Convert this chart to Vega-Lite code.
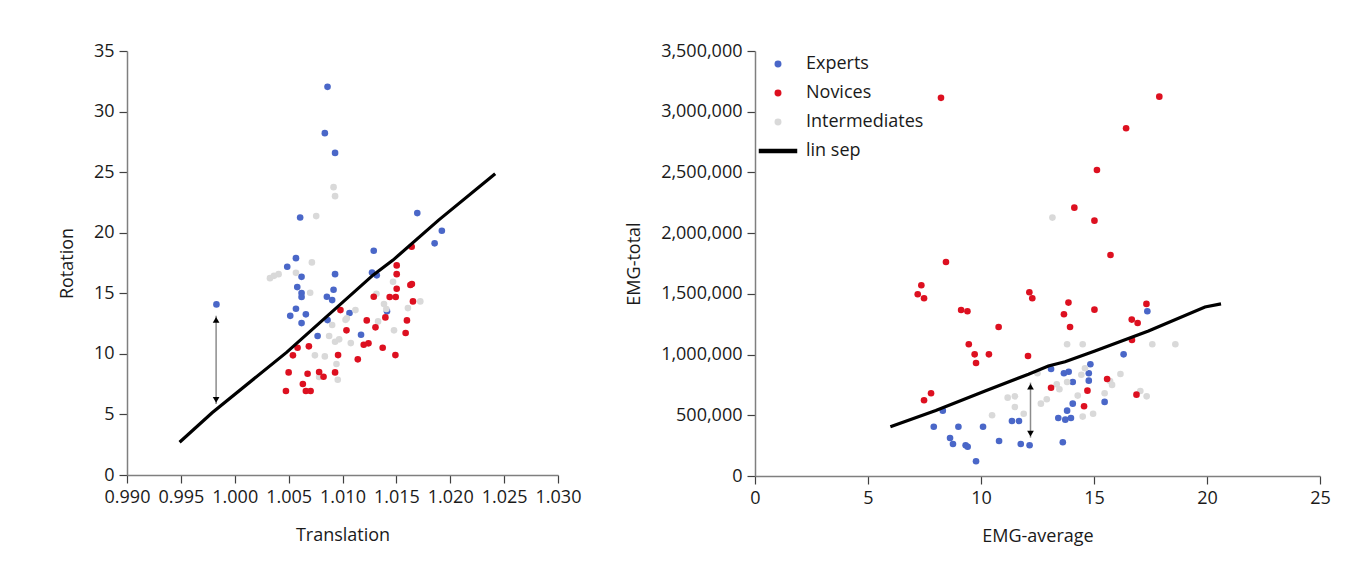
{
  "$schema": "https://vega.github.io/schema/vega-lite/v6.json",
  "background": "white",
  "padding": {"left": 58, "top": 42, "right": 0, "bottom": 20},
  "spacing": 44,
  "resolve": {"scale": {"color": "independent", "shape": "independent"}, "legend": {"color": "independent", "shape": "independent"}},
  "config": {
    "view": {"stroke": null},
    "font": "Open Sans",
    "axis": {
      "grid": false,
      "domainColor": "#7f7f7f",
      "domainWidth": 1.5,
      "tickColor": "#404040",
      "tickWidth": 1.2,
      "tickSize": 8,
      "labelFontSize": 18,
      "labelColor": "#1a1a1a",
      "labelPadding": 5,
      "titleFontSize": 18,
      "titleFontWeight": "normal",
      "titleColor": "#1a1a1a",
      "labelFlush": false,
      "labelOverlap": false
    }
  },
  "datasets": {
    "left_pts": [
      {"x": 1.00861, "y": 32.04, "g": "Experts"},
      {"x": 1.00836, "y": 28.22, "g": "Experts"},
      {"x": 1.00931, "y": 26.59, "g": "Experts"},
      {"x": 1.00607, "y": 21.26, "g": "Experts"},
      {"x": 1.01694, "y": 21.62, "g": "Experts"},
      {"x": 1.01922, "y": 20.16, "g": "Experts"},
      {"x": 1.01855, "y": 19.12, "g": "Experts"},
      {"x": 1.0129, "y": 18.51, "g": "Experts"},
      {"x": 1.00568, "y": 17.9, "g": "Experts"},
      {"x": 1.00487, "y": 17.19, "g": "Experts"},
      {"x": 1.0062, "y": 16.36, "g": "Experts"},
      {"x": 1.00931, "y": 16.58, "g": "Experts"},
      {"x": 1.01274, "y": 16.72, "g": "Experts"},
      {"x": 1.01318, "y": 16.48, "g": "Experts"},
      {"x": 1.0058, "y": 15.51, "g": "Experts"},
      {"x": 1.0062, "y": 15.02, "g": "Experts"},
      {"x": 1.0062, "y": 14.69, "g": "Experts"},
      {"x": 1.00917, "y": 15.29, "g": "Experts"},
      {"x": 1.00855, "y": 14.71, "g": "Experts"},
      {"x": 1.00904, "y": 14.44, "g": "Experts"},
      {"x": 0.9983, "y": 14.08, "g": "Experts"},
      {"x": 1.00568, "y": 13.72, "g": "Experts"},
      {"x": 1.00515, "y": 13.14, "g": "Experts"},
      {"x": 1.0066, "y": 13.26, "g": "Experts"},
      {"x": 1.0062, "y": 12.54, "g": "Experts"},
      {"x": 1.01065, "y": 13.37, "g": "Experts"},
      {"x": 1.00861, "y": 12.79, "g": "Experts"},
      {"x": 1.01413, "y": 13.51, "g": "Experts"},
      {"x": 1.00769, "y": 11.47, "g": "Experts"},
      {"x": 1.01172, "y": 11.58, "g": "Experts"},
      {"x": 1.00917, "y": 23.76, "g": "Intermediates"},
      {"x": 1.00931, "y": 23.02, "g": "Intermediates"},
      {"x": 1.00756, "y": 21.37, "g": "Intermediates"},
      {"x": 1.00716, "y": 17.55, "g": "Intermediates"},
      {"x": 1.00327, "y": 16.25, "g": "Intermediates"},
      {"x": 1.00364, "y": 16.44, "g": "Intermediates"},
      {"x": 1.00407, "y": 16.58, "g": "Intermediates"},
      {"x": 1.00568, "y": 16.69, "g": "Intermediates"},
      {"x": 1.01469, "y": 15.95, "g": "Intermediates"},
      {"x": 1.007, "y": 15.04, "g": "Intermediates"},
      {"x": 1.01315, "y": 14.96, "g": "Intermediates"},
      {"x": 1.01722, "y": 14.33, "g": "Intermediates"},
      {"x": 1.01385, "y": 14.11, "g": "Intermediates"},
      {"x": 1.01407, "y": 13.7, "g": "Intermediates"},
      {"x": 1.01607, "y": 13.78, "g": "Intermediates"},
      {"x": 1.0112, "y": 13.61, "g": "Intermediates"},
      {"x": 1.01028, "y": 12.81, "g": "Intermediates"},
      {"x": 1.0104, "y": 12.93, "g": "Intermediates"},
      {"x": 1.00904, "y": 12.38, "g": "Intermediates"},
      {"x": 1.0133, "y": 12.68, "g": "Intermediates"},
      {"x": 1.01478, "y": 11.94, "g": "Intermediates"},
      {"x": 1.00876, "y": 11.47, "g": "Intermediates"},
      {"x": 1.00931, "y": 11.0, "g": "Intermediates"},
      {"x": 1.00969, "y": 11.2, "g": "Intermediates"},
      {"x": 1.01077, "y": 10.89, "g": "Intermediates"},
      {"x": 1.00744, "y": 9.88, "g": "Intermediates"},
      {"x": 1.00836, "y": 9.79, "g": "Intermediates"},
      {"x": 1.00944, "y": 9.16, "g": "Intermediates"},
      {"x": 1.00783, "y": 8.09, "g": "Intermediates"},
      {"x": 1.00956, "y": 7.86, "g": "Intermediates"},
      {"x": 1.01642, "y": 18.84, "g": "Novices"},
      {"x": 1.01503, "y": 17.3, "g": "Novices"},
      {"x": 1.01503, "y": 16.58, "g": "Novices"},
      {"x": 1.0163, "y": 15.68, "g": "Novices"},
      {"x": 1.01644, "y": 15.76, "g": "Novices"},
      {"x": 1.01503, "y": 15.37, "g": "Novices"},
      {"x": 1.0129, "y": 14.71, "g": "Novices"},
      {"x": 1.01438, "y": 14.69, "g": "Novices"},
      {"x": 1.01494, "y": 14.69, "g": "Novices"},
      {"x": 1.01654, "y": 14.33, "g": "Novices"},
      {"x": 1.00981, "y": 13.61, "g": "Novices"},
      {"x": 1.01225, "y": 12.76, "g": "Novices"},
      {"x": 1.01398, "y": 13.01, "g": "Novices"},
      {"x": 1.01598, "y": 12.76, "g": "Novices"},
      {"x": 1.01306, "y": 12.19, "g": "Novices"},
      {"x": 1.01037, "y": 11.94, "g": "Novices"},
      {"x": 1.01586, "y": 11.72, "g": "Novices"},
      {"x": 1.01197, "y": 10.75, "g": "Novices"},
      {"x": 1.01241, "y": 10.87, "g": "Novices"},
      {"x": 1.01373, "y": 10.5, "g": "Novices"},
      {"x": 1.00583, "y": 10.5, "g": "Novices"},
      {"x": 1.00688, "y": 10.62, "g": "Novices"},
      {"x": 1.0054, "y": 9.88, "g": "Novices"},
      {"x": 1.00959, "y": 9.9, "g": "Novices"},
      {"x": 1.01142, "y": 9.55, "g": "Novices"},
      {"x": 1.01491, "y": 9.9, "g": "Novices"},
      {"x": 1.005, "y": 8.47, "g": "Novices"},
      {"x": 1.00676, "y": 8.36, "g": "Novices"},
      {"x": 1.00783, "y": 8.5, "g": "Novices"},
      {"x": 1.00824, "y": 8.11, "g": "Novices"},
      {"x": 1.00931, "y": 8.47, "g": "Novices"},
      {"x": 1.00632, "y": 7.51, "g": "Novices"},
      {"x": 1.00475, "y": 6.93, "g": "Novices"},
      {"x": 1.0066, "y": 6.93, "g": "Novices"},
      {"x": 1.00704, "y": 6.93, "g": "Novices"}
    ],
    "left_line": [
      {"x": 0.99488, "y": 2.7},
      {"x": 0.9979, "y": 5.14},
      {"x": 1.00481, "y": 10.12},
      {"x": 1.01283, "y": 16.5},
      {"x": 1.01469, "y": 17.74},
      {"x": 1.01892, "y": 21.04},
      {"x": 1.02417, "y": 24.86}
    ],
    "left_arrow": [{"x": 0.99827, "y": 13.14, "y2": 5.86}],
    "left_heads": [
      {"x": 0.99827, "y": 12.8, "d": "up"},
      {"x": 0.99827, "y": 6.2, "d": "down"}
    ],
    "right_pts": [
      {"x": 17.36, "y": 1357000, "g": "Experts"},
      {"x": 16.31, "y": 1002000, "g": "Experts"},
      {"x": 14.84, "y": 920000, "g": "Experts"},
      {"x": 13.1, "y": 881000, "g": "Experts"},
      {"x": 13.67, "y": 846000, "g": "Experts"},
      {"x": 13.88, "y": 859000, "g": "Experts"},
      {"x": 14.77, "y": 846000, "g": "Experts"},
      {"x": 14.77, "y": 785000, "g": "Experts"},
      {"x": 14.06, "y": 774000, "g": "Experts"},
      {"x": 8.31, "y": 538000, "g": "Experts"},
      {"x": 14.06, "y": 596000, "g": "Experts"},
      {"x": 13.81, "y": 538000, "g": "Experts"},
      {"x": 15.47, "y": 610000, "g": "Experts"},
      {"x": 13.42, "y": 478000, "g": "Experts"},
      {"x": 13.73, "y": 464000, "g": "Experts"},
      {"x": 13.98, "y": 478000, "g": "Experts"},
      {"x": 7.91, "y": 406000, "g": "Experts"},
      {"x": 9.0, "y": 406000, "g": "Experts"},
      {"x": 10.09, "y": 406000, "g": "Experts"},
      {"x": 11.37, "y": 453000, "g": "Experts"},
      {"x": 11.68, "y": 453000, "g": "Experts"},
      {"x": 8.63, "y": 313000, "g": "Experts"},
      {"x": 8.76, "y": 264000, "g": "Experts"},
      {"x": 9.32, "y": 253000, "g": "Experts"},
      {"x": 9.41, "y": 241000, "g": "Experts"},
      {"x": 10.8, "y": 288000, "g": "Experts"},
      {"x": 11.76, "y": 264000, "g": "Experts"},
      {"x": 12.15, "y": 253000, "g": "Experts"},
      {"x": 13.62, "y": 278000, "g": "Experts"},
      {"x": 9.78, "y": 121000, "g": "Experts"},
      {"x": 13.16, "y": 2128000, "g": "Intermediates"},
      {"x": 13.81, "y": 1085000, "g": "Intermediates"},
      {"x": 14.5, "y": 1085000, "g": "Intermediates"},
      {"x": 17.58, "y": 1085000, "g": "Intermediates"},
      {"x": 18.6, "y": 1085000, "g": "Intermediates"},
      {"x": 12.5, "y": 846000, "g": "Intermediates"},
      {"x": 14.6, "y": 887000, "g": "Intermediates"},
      {"x": 14.44, "y": 834000, "g": "Intermediates"},
      {"x": 16.17, "y": 840000, "g": "Intermediates"},
      {"x": 13.81, "y": 774000, "g": "Intermediates"},
      {"x": 13.35, "y": 755000, "g": "Intermediates"},
      {"x": 13.47, "y": 714000, "g": "Intermediates"},
      {"x": 15.8, "y": 750000, "g": "Intermediates"},
      {"x": 15.71, "y": 782000, "g": "Intermediates"},
      {"x": 14.28, "y": 662000, "g": "Intermediates"},
      {"x": 15.47, "y": 681000, "g": "Intermediates"},
      {"x": 17.05, "y": 700000, "g": "Intermediates"},
      {"x": 17.33, "y": 656000, "g": "Intermediates"},
      {"x": 11.18, "y": 645000, "g": "Intermediates"},
      {"x": 11.5, "y": 656000, "g": "Intermediates"},
      {"x": 11.5, "y": 568000, "g": "Intermediates"},
      {"x": 12.65, "y": 596000, "g": "Intermediates"},
      {"x": 12.91, "y": 632000, "g": "Intermediates"},
      {"x": 10.49, "y": 500000, "g": "Intermediates"},
      {"x": 11.89, "y": 513000, "g": "Intermediates"},
      {"x": 14.5, "y": 489000, "g": "Intermediates"},
      {"x": 14.96, "y": 513000, "g": "Intermediates"},
      {"x": 8.23, "y": 3114000, "g": "Novices"},
      {"x": 17.89, "y": 3124000, "g": "Novices"},
      {"x": 16.42, "y": 2864000, "g": "Novices"},
      {"x": 15.13, "y": 2520000, "g": "Novices"},
      {"x": 14.13, "y": 2210000, "g": "Novices"},
      {"x": 15.02, "y": 2103000, "g": "Novices"},
      {"x": 15.73, "y": 1820000, "g": "Novices"},
      {"x": 8.45, "y": 1762000, "g": "Novices"},
      {"x": 12.14, "y": 1513000, "g": "Novices"},
      {"x": 12.27, "y": 1464000, "g": "Novices"},
      {"x": 13.87, "y": 1428000, "g": "Novices"},
      {"x": 17.32, "y": 1417000, "g": "Novices"},
      {"x": 15.02, "y": 1370000, "g": "Novices"},
      {"x": 9.12, "y": 1367000, "g": "Novices"},
      {"x": 9.4, "y": 1357000, "g": "Novices"},
      {"x": 7.36, "y": 1571000, "g": "Novices"},
      {"x": 7.2, "y": 1497000, "g": "Novices"},
      {"x": 7.48, "y": 1464000, "g": "Novices"},
      {"x": 13.67, "y": 1332000, "g": "Novices"},
      {"x": 13.94, "y": 1227000, "g": "Novices"},
      {"x": 10.78, "y": 1227000, "g": "Novices"},
      {"x": 16.67, "y": 1288000, "g": "Novices"},
      {"x": 16.93, "y": 1260000, "g": "Novices"},
      {"x": 16.68, "y": 1120000, "g": "Novices"},
      {"x": 9.46, "y": 1085000, "g": "Novices"},
      {"x": 9.72, "y": 1002000, "g": "Novices"},
      {"x": 10.35, "y": 1002000, "g": "Novices"},
      {"x": 9.78, "y": 931000, "g": "Novices"},
      {"x": 12.08, "y": 988000, "g": "Novices"},
      {"x": 7.79, "y": 681000, "g": "Novices"},
      {"x": 7.48, "y": 624000, "g": "Novices"},
      {"x": 13.1, "y": 727000, "g": "Novices"},
      {"x": 14.71, "y": 703000, "g": "Novices"},
      {"x": 15.58, "y": 799000, "g": "Novices"},
      {"x": 14.56, "y": 574000, "g": "Novices"},
      {"x": 16.88, "y": 670000, "g": "Novices"}
    ],
    "right_line": [
      {"x": 5.99, "y": 406000, "g": "lin sep"},
      {"x": 8.0, "y": 540000, "g": "lin sep"},
      {"x": 10.18, "y": 700000, "g": "lin sep"},
      {"x": 12.1, "y": 838000, "g": "lin sep"},
      {"x": 12.98, "y": 906000, "g": "lin sep"},
      {"x": 13.72, "y": 941000, "g": "lin sep"},
      {"x": 15.04, "y": 1030000, "g": "lin sep"},
      {"x": 17.41, "y": 1194000, "g": "lin sep"},
      {"x": 19.91, "y": 1392000, "g": "lin sep"},
      {"x": 20.62, "y": 1417000, "g": "lin sep"}
    ],
    "right_arrow": [{"x": 12.19, "y": 769000, "y2": 316000}],
    "right_heads": [
      {"x": 12.19, "y": 736000, "d": "up"},
      {"x": 12.19, "y": 349000, "d": "down"}
    ]
  },
  "hconcat": [
    {
      "width": 431,
      "height": 424,
      "layer": [
        {
          "data": {"name": "left_arrow"},
          "mark": {"type": "rule", "color": "#8c8c8c", "strokeWidth": 1.5},
          "encoding": {
            "x": {"field": "x", "type": "quantitative", "scale": {"domain": [0.99, 1.03], "nice": false, "zero": false}},
            "y": {"field": "y", "type": "quantitative"},
            "y2": {"field": "y2"}
          }
        },
        {
          "data": {"name": "left_heads"},
          "mark": {"type": "point", "filled": true, "color": "#000000", "opacity": 1, "size": 45},
          "encoding": {
            "x": {"field": "x", "type": "quantitative"},
            "y": {"field": "y", "type": "quantitative"},
            "shape": {"field": "d", "type": "nominal", "scale": {"domain": ["up", "down"], "range": ["triangle-up", "triangle-down"]}, "legend": null}
          }
        },
        {
          "data": {"name": "left_pts"},
          "mark": {"type": "circle", "size": 44, "opacity": 1},
          "encoding": {
            "x": {"field": "x", "type": "quantitative", "title": "Translation",
              "scale": {"domain": [0.99, 1.03], "nice": false, "zero": false},
              "axis": {"values": [0.99, 0.995, 1.0, 1.005, 1.01, 1.015, 1.02, 1.025, 1.03], "format": ".3f", "titleY": 60, "titleBaseline": "middle"}},
            "y": {"field": "y", "type": "quantitative", "title": "Rotation",
              "scale": {"domain": [0, 35], "nice": false},
              "axis": {"values": [0, 5, 10, 15, 20, 25, 30, 35], "titleX": -60, "titleBaseline": "middle"}},
            "color": {"field": "g", "type": "nominal",
              "scale": {"domain": ["Experts", "Novices", "Intermediates"], "range": ["#4a67c8", "#dd1020", "#d9d9d9"]},
              "legend": null}
          }
        },
        {
          "data": {"name": "left_line"},
          "mark": {"type": "line", "color": "#000000", "strokeWidth": 3.2},
          "encoding": {
            "x": {"field": "x", "type": "quantitative"},
            "y": {"field": "y", "type": "quantitative"}
          }
        }
      ],
      "resolve": {"scale": {"color": "independent", "shape": "independent"}}
    },
    {
      "width": 565,
      "height": 425,
      "layer": [
        {
          "data": {"name": "right_arrow"},
          "mark": {"type": "rule", "color": "#8c8c8c", "strokeWidth": 1.5},
          "encoding": {
            "x": {"field": "x", "type": "quantitative", "scale": {"domain": [0, 25], "nice": false}},
            "y": {"field": "y", "type": "quantitative"},
            "y2": {"field": "y2"}
          }
        },
        {
          "data": {"name": "right_heads"},
          "mark": {"type": "point", "filled": true, "color": "#000000", "opacity": 1, "size": 45},
          "encoding": {
            "x": {"field": "x", "type": "quantitative"},
            "y": {"field": "y", "type": "quantitative"},
            "shape": {"field": "d", "type": "nominal", "scale": {"domain": ["up", "down"], "range": ["triangle-up", "triangle-down"]}, "legend": null}
          }
        },
        {
          "data": {"name": "right_pts"},
          "mark": {"type": "circle", "size": 44, "opacity": 1},
          "encoding": {
            "x": {"field": "x", "type": "quantitative", "title": "EMG-average",
              "scale": {"domain": [0, 25], "nice": false},
              "axis": {"values": [0, 5, 10, 15, 20, 25], "titleY": 60, "titleBaseline": "middle"}},
            "y": {"field": "y", "type": "quantitative", "title": "EMG-total",
              "scale": {"domain": [0, 3500000], "nice": false},
              "axis": {"values": [0, 500000, 1000000, 1500000, 2000000, 2500000, 3000000, 3500000], "format": ",.0f", "titleX": -121, "titleBaseline": "middle"}},
            "color": {"field": "g", "type": "nominal",
              "scale": {"domain": ["Experts", "Novices", "Intermediates", "lin sep"], "range": ["#4a67c8", "#dd1020", "#d9d9d9", "#000000"]},
              "legend": {
                "title": null,
                "orient": "none",
                "legendX": 14,
                "legendY": 4,
                "padding": 0,
                "labelFontSize": 18,
                "labelColor": "#1a1a1a",
                "labelOffset": 19,
                "rowPadding": 11,
                "symbolSize": 30,
                "symbolType": {"expr": "datum.value === 'lin sep' ? 'M-6.75,-0.55H6.75V0.55H-6.75Z' : 'circle'"},
                "values": ["Experts", "Novices", "Intermediates", "lin sep"]
              }}
          }
        },
        {
          "data": {"name": "right_line"},
          "mark": {"type": "line", "strokeWidth": 3.2},
          "encoding": {
            "x": {"field": "x", "type": "quantitative"},
            "y": {"field": "y", "type": "quantitative"},
            "color": {"field": "g", "type": "nominal"}
          }
        }
      ],
      "resolve": {"scale": {"shape": "independent"}}
    }
  ]
}
